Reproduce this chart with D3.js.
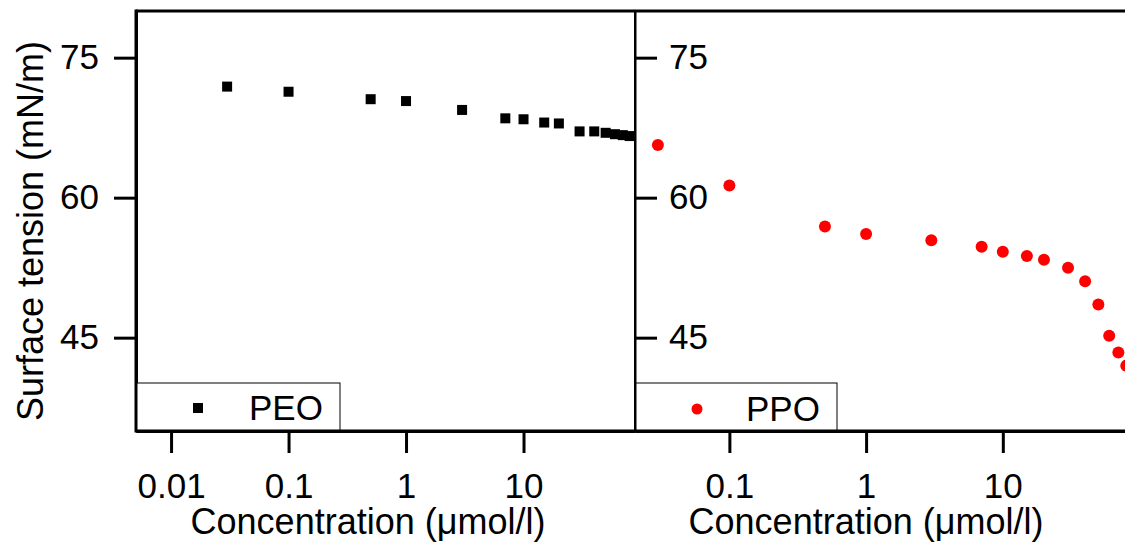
<!DOCTYPE html>
<html lang="en">
  <head>
    <meta charset="UTF-8" />
    <title>Surface tension vs concentration</title>
    <style>
      body {
        margin: 0;
        padding: 0;
        background: #fff;
      }
      svg text {
        font-family: "Liberation Sans", Arial, sans-serif;
        fill: #000;
      }
    </style>
  </head>
  <body>
    <svg id="chart"></svg>

    <script src="https://cdn.jsdelivr.net/npm/d3@7"></script>
    <script>
      // concentrations (umol/l), same for both series
      const conc = [0.03, 0.1, 0.5, 1, 3, 7, 10, 15, 20, 30, 40, 50, 60, 70, 80];
      const peoTension = [71.9, 71.35, 70.55, 70.35, 69.4, 68.5, 68.4, 68.05, 67.95, 67.1, 67.1, 66.95, 66.8, 66.7, 66.6];
      const ppoTension = [65.65, 61.3, 56.9, 56.1, 55.45, 54.75, 54.2, 53.75, 53.35, 52.5, 51.05, 48.55, 45.2, 43.4, 42.0];

      const leftTicks = [0.01, 0.1, 1, 10];
      const rightTicks = [0.1, 1, 10];
      const yTicks = [45, 60, 75];
      const seriesNames = ["PEO", "PPO"];
      const xTitle = "Concentration (\u03bcmol/l)";
      const yTitle = "Surface tension (mN/m)";

      const width = 1125;
      const height = 547;
      const plotTop = 11;
      const plotBottom = 431;
      const leftX0 = 136; // left panel start
      const midX = 635; // panel divider
      const rightX1 = 1140; // right panel runs past the picture edge

      const svg = d3.select("#chart").attr("width", width).attr("height", height);

      const y = d3.scaleLinear().domain([35, 80]).range([plotBottom, plotTop]);

      const xL = d3.scaleLog().domain([0.00503, 88.9]).range([leftX0, midX]);
      const xR = d3.scaleLog().domain([0.0204, 100.8]).range([midX, rightX1]);

      const defs = svg.append("defs");
      defs.append("clipPath").attr("id", "clipL")
        .append("rect").attr("x", leftX0).attr("y", plotTop).attr("width", midX - leftX0).attr("height", plotBottom - plotTop);
      defs.append("clipPath").attr("id", "clipR")
        .append("rect").attr("x", midX).attr("y", plotTop).attr("width", rightX1 - midX).attr("height", plotBottom - plotTop);

      // top frame line
      svg.append("line")
        .attr("x1", leftX0).attr("x2", width)
        .attr("y1", plotTop).attr("y2", plotTop)
        .attr("stroke", "#000").attr("stroke-width", 3);

      // x axes
      const axL = d3.axisBottom(xL).tickValues(leftTicks).tickFormat(d => String(d))
        .tickSize(22).tickSizeOuter(0).tickPadding(20);
      const axR = d3.axisBottom(xR).tickValues(rightTicks).tickFormat(d => String(d))
        .tickSize(22).tickSizeOuter(0).tickPadding(20);

      [axL, axR].forEach(ax => {
        const g = svg.append("g").attr("transform", `translate(0,${plotBottom})`).call(ax);
        g.attr("font-family", null);
        g.select(".domain").attr("stroke-width", 3);
        g.selectAll(".tick line").attr("stroke-width", 3);
        g.selectAll(".tick text").attr("font-size", 35);
      });

      // y axes
      const gyL = svg.append("g").attr("transform", `translate(${leftX0},0)`)
        .call(d3.axisLeft(y).tickValues(yTicks).tickSize(22).tickSizeOuter(0).tickPadding(15));
      gyL.attr("font-family", null);
      gyL.select(".domain").attr("stroke-width", 3);
      gyL.selectAll(".tick line").attr("stroke-width", 3);
      gyL.selectAll(".tick text").attr("font-size", 35);

      const gyR = svg.append("g").attr("transform", `translate(${midX},0)`)
        .call(d3.axisRight(y).tickValues(yTicks).tickSize(22).tickSizeOuter(0).tickPadding(12));
      gyR.attr("font-family", null);
      gyR.select(".domain").attr("stroke-width", 2);
      gyR.selectAll(".tick line").attr("stroke-width", 3);
      gyR.selectAll(".tick text").attr("font-size", 35);

      // axis titles
      svg.append("text")
        .attr("x", 368).attr("y", 534)
        .attr("text-anchor", "middle").attr("font-size", 36)
        .text(xTitle);
      svg.append("text")
        .attr("x", 866).attr("y", 534)
        .attr("text-anchor", "middle").attr("font-size", 36)
        .text(xTitle);
      svg.append("text")
        .attr("transform", "translate(43,231) rotate(-90)")
        .attr("text-anchor", "middle").attr("font-size", 36)
        .text(yTitle);

      // PEO squares
      const sq = 10;
      svg.append("g").attr("clip-path", "url(#clipL)")
        .selectAll("rect")
        .data(conc.map((c, i) => [c, peoTension[i]]))
        .join("rect")
        .attr("x", d => xL(d[0]) - sq / 2)
        .attr("y", d => y(d[1]) - sq / 2)
        .attr("width", sq).attr("height", sq)
        .attr("fill", "#000");

      // PPO circles
      svg.append("g").attr("clip-path", "url(#clipR)")
        .selectAll("circle")
        .data(conc.map((c, i) => [c, ppoTension[i]]))
        .join("circle")
        .attr("cx", d => xR(d[0]))
        .attr("cy", d => y(d[1]))
        .attr("r", 6)
        .attr("fill", "#ff0000");

      // legends
      const legL = svg.append("g");
      legL.append("rect")
        .attr("x", leftX0).attr("y", 383).attr("width", 204).attr("height", plotBottom - 383)
        .attr("fill", "#fff").attr("stroke", "#000").attr("stroke-width", 1);
      legL.append("rect")
        .attr("x", 198 - sq / 2).attr("y", 408 - sq / 2).attr("width", sq).attr("height", sq)
        .attr("fill", "#000");
      legL.append("text").attr("x", 249).attr("y", 420).attr("font-size", 35).text(seriesNames[0]);

      const legR = svg.append("g");
      legR.append("rect")
        .attr("x", midX + 1).attr("y", 383).attr("width", 201).attr("height", plotBottom - 383)
        .attr("fill", "#fff").attr("stroke", "#000").attr("stroke-width", 1);
      legR.append("circle").attr("cx", 697).attr("cy", 409).attr("r", 5.5).attr("fill", "#ff0000");
      legR.append("text").attr("x", 746).attr("y", 421).attr("font-size", 35).text(seriesNames[1]);

      // redraw axis lines over the legend boxes
      svg.append("line")
        .attr("x1", leftX0).attr("x2", width).attr("y1", plotBottom).attr("y2", plotBottom)
        .attr("stroke", "#000").attr("stroke-width", 3);
      svg.append("line")
        .attr("x1", leftX0).attr("x2", leftX0).attr("y1", plotTop - 1.5).attr("y2", plotBottom + 1.5)
        .attr("stroke", "#000").attr("stroke-width", 3);
      svg.append("line")
        .attr("x1", midX).attr("x2", midX).attr("y1", plotTop).attr("y2", plotBottom)
        .attr("stroke", "#000").attr("stroke-width", 2);
    </script>
  </body>
</html>
